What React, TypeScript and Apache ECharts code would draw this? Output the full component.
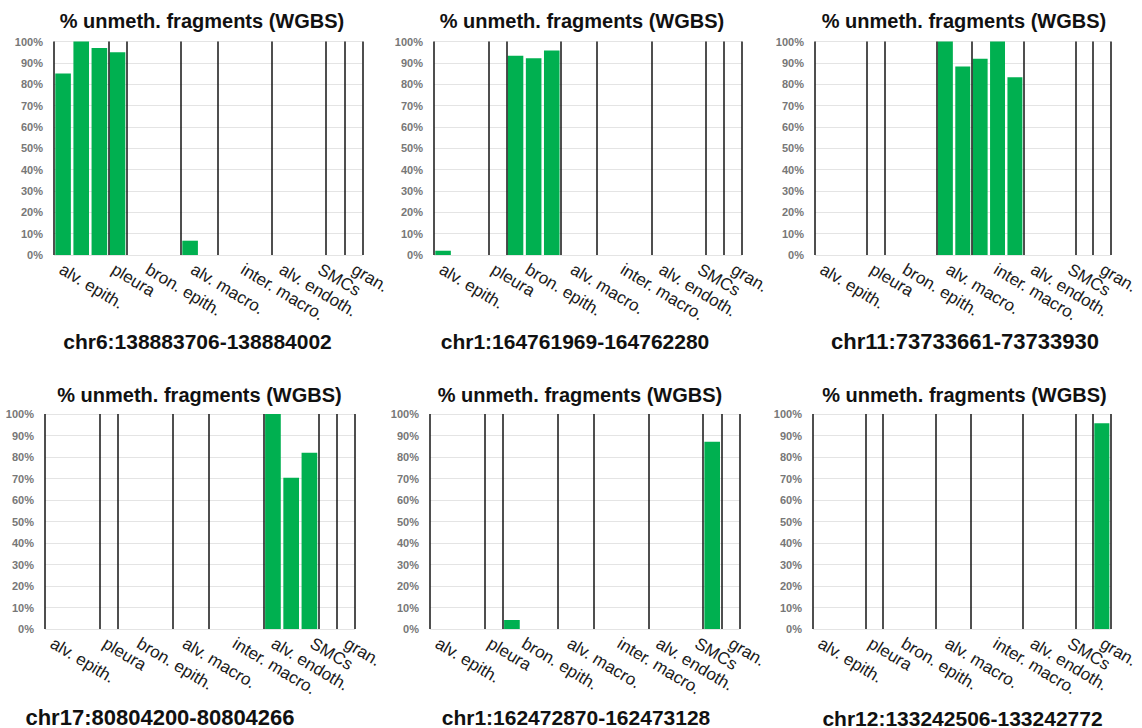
import React, { useEffect, useRef } from "react";
import * as echarts from "echarts";

// ---------- data ----------
const TITLE = "% unmeth. fragments (WGBS)";
const CELL_TYPES = ["alv. epith.", "pleura", "bron. epith.", "alv. macro.", "inter. macro.", "alv. endoth.", "SMCs", "gran."];
const SAMPLES_PER_TYPE = [3, 1, 3, 2, 3, 3, 1, 1];
const REGIONS = [
  "chr6:138883706-138884002",
  "chr1:164761969-164762280",
  "chr11:73733661-73733930",
  "chr17:80804200-80804266",
  "chr1:162472870-162473128",
  "chr12:133242506-133242772",
];
// % unmethylated fragments per sample (17 samples, ordered by cell type)
const chr6_138883706 = [85, 100, 97, 95, 0, 0, 0, 6.7, 0, 0, 0, 0, 0, 0, 0, 0, 0];
const chr1_164761969 = [2, 0, 0, 0, 93.3, 92.2, 95.8, 0, 0, 0, 0, 0, 0, 0, 0, 0, 0];
const chr11_73733661 = [0, 0, 0, 0, 0, 0, 0, 100, 88.3, 91.9, 100, 83.3, 0, 0, 0, 0, 0];
const chr17_80804200 = [0, 0, 0, 0, 0, 0, 0, 0, 0, 0, 0, 0, 100, 70.4, 82, 0, 0];
const chr1_162472870 = [0, 0, 0, 0, 4.2, 0, 0, 0, 0, 0, 0, 0, 0, 0, 0, 87.1, 0];
const chr12_133242506 = [0, 0, 0, 0, 0, 0, 0, 0, 0, 0, 0, 0, 0, 0, 0, 0, 95.7];
const PANEL_VALUES = [chr6_138883706, chr1_164761969, chr11_73733661, chr17_80804200, chr1_162472870, chr12_133242506];

// ---------- layout ----------
const PANELS = [
  { left: 54, top: 41.5, width: 308.5, height: 213.5, tx: 202, ty: 21, fx: 197.5, fy: 341, fs: 21 },
  { left: 434, top: 41.5, width: 308, height: 213.5, tx: 582, ty: 21, fx: 575, fy: 341, fs: 21 },
  { left: 815, top: 41.5, width: 308.5, height: 213.5, tx: 964, ty: 21, fx: 965, fy: 341, fs: 22 },
  { left: 45, top: 414, width: 310, height: 215, tx: 199.5, ty: 395, fx: 160, fy: 717, fs: 22 },
  { left: 430, top: 414, width: 309.5, height: 215, tx: 580, ty: 395, fx: 576, fy: 717, fs: 21 },
  { left: 813, top: 414, width: 310, height: 215, tx: 964.5, ty: 395, fx: 962.5, fy: 718, fs: 21 },
];
// where each cell-type label is anchored, in sample-slot units
const LABEL_SLOT = [0.375, 3.25, 5.125, 7.625, 10.375, 12.5, 14.625, 16.5];
const FONT = "'Liberation Sans', Arial, Helvetica, sans-serif";

export default function App() {
  const ref = useRef<HTMLDivElement>(null);
  useEffect(() => {
    if (!ref.current) return;
    const chart = echarts.init(ref.current, undefined, { renderer: "svg" });
    const nSlots = SAMPLES_PER_TYPE.reduce((a, b) => a + b, 0);
    const boundaries: number[] = [0];
    SAMPLES_PER_TYPE.forEach((n) => boundaries.push(boundaries[boundaries.length - 1] + n));
    const labelMap: Record<number, string> = {};
    LABEL_SLOT.forEach((s, i) => (labelMap[Math.round(s * 8)] = CELL_TYPES[i]));

    const grid: any[] = [];
    const xAxis: any[] = [];
    const yAxis: any[] = [];
    const series: any[] = [];
    const graphic: any[] = [];

    PANELS.forEach((p, i) => {
      grid.push({ left: p.left, top: p.top, width: p.width, height: p.height });
      xAxis.push({ gridIndex: i, type: "value", min: 0, max: nSlots, show: false });
      xAxis.push({
        gridIndex: i,
        type: "value",
        min: 0,
        max: nSlots,
        interval: 0.125,
        position: "bottom",
        axisLine: { show: false },
        axisTick: { show: false },
        splitLine: { show: false },
        axisLabel: {
          show: true,
          rotate: -31,
          margin: 13,
          fontSize: 17,
          color: "#1a1a1a",
          fontFamily: FONT,
          showMinLabel: true,
          showMaxLabel: true,
          formatter: (v: number) => labelMap[Math.round(v * 8)] || "",
        },
      });
      yAxis.push({
        gridIndex: i,
        type: "value",
        min: 0,
        max: 100,
        interval: 10,
        axisLine: { show: false },
        axisTick: { show: false },
        axisLabel: { formatter: "{value}%", fontSize: 11, fontWeight: "bold", color: "#777777", fontFamily: FONT, margin: 11 },
        splitLine: { show: true, lineStyle: { color: "#e4e4e4", width: 1 } },
      });
      series.push({
        type: "bar",
        xAxisIndex: 2 * i,
        yAxisIndex: i,
        clip: false,
        barWidth: "86%",
        itemStyle: { color: "#00b050" },
        data: PANEL_VALUES[i].map((v, k) => [k + 0.5, v]),
        markLine: {
          silent: true,
          symbol: ["none", "none"],
          label: { show: false },
          lineStyle: { color: "#141414", width: 1.5, type: "solid" },
          data: boundaries.map((b) => ({ xAxis: b })),
        },
      });
      graphic.push({
        type: "text",
        x: p.tx,
        y: p.ty,
        style: { text: TITLE, font: `bold 20px ${FONT}`, fill: "#111", align: "center", verticalAlign: "middle", textAlign: "center", textVerticalAlign: "middle" },
      });
      graphic.push({
        type: "text",
        x: p.fx,
        y: p.fy,
        style: { text: REGIONS[i], font: `bold ${p.fs}px ${FONT}`, fill: "#111", align: "center", verticalAlign: "middle", textAlign: "center", textVerticalAlign: "middle" },
      });
    });

    chart.setOption({
      animation: false,
      backgroundColor: "#ffffff",
      grid,
      xAxis,
      yAxis,
      series,
      graphic,
    });
    return () => chart.dispose();
  }, []);
  return <div ref={ref} style={{ position: "fixed", left: 0, top: 0, width: 1142, height: 728, background: "#fff" }} />;
}
